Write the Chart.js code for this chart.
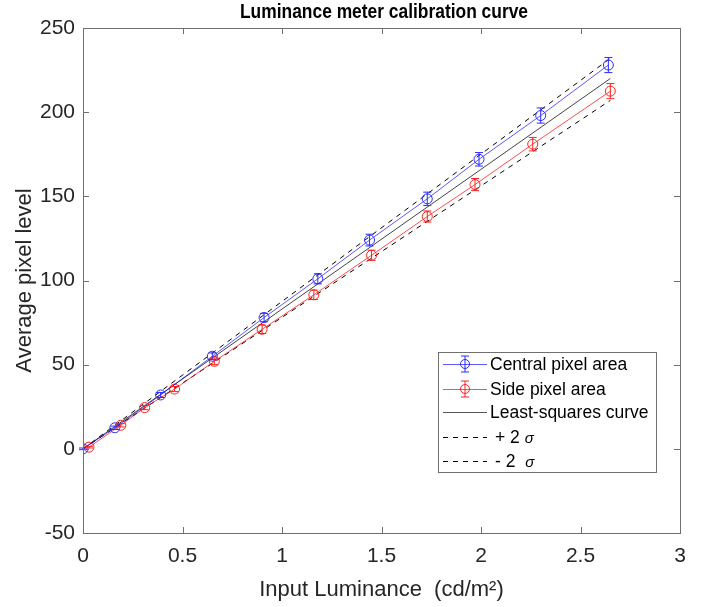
<!DOCTYPE html>
<html>
<head>
<meta charset="utf-8">
<script src="https://cdn.jsdelivr.net/npm/chart.js@4.4.0/dist/chart.umd.min.js"></script>
<style>
  html, body { margin: 0; padding: 0; background: #fff; }
</style>
</head>
<body>
<canvas id="calChart" width="702" height="607"></canvas>
<script>
const centralX = [0, 0.16, 0.39, 0.65, 0.91, 1.18, 1.44, 1.73, 1.99, 2.30, 2.64];
const centralY = [0, 12.5, 32, 55, 78, 101, 124, 148.5, 172, 198, 228];
const centralErr = [0.5, 1, 1.5, 2, 2.5, 3, 3.5, 4, 4, 4.5, 4.5];

const sideX = [0.03, 0.19, 0.31, 0.46, 0.66, 0.90, 1.16, 1.45, 1.73, 1.97, 2.26, 2.65];
const sideY = [1, 14, 24.5, 35.5, 52, 71, 91.5, 115, 138, 157, 181, 212.5];
const sideErr = [0.5, 1, 1.2, 1.5, 2, 2.5, 2.8, 3, 3.3, 3.6, 4, 4.5];

// least-squares line and +/- 2 sigma bounds (end points)
const fitX = [0, 2.65];
const fitY = [0, 220];
const plusY = [0, 232];
const minusY = [0, 207];

const xTicks = [0, 0.5, 1, 1.5, 2, 2.5, 3];
const yTicks = [-50, 0, 50, 100, 150, 200, 250];

const FONT = "'Liberation Sans', Arial, sans-serif";
const TEXT_COLOR = "#262626";
const BOX_COLOR = "#707070";

function toPoints(xs, ys) {
    return xs.map((x, i) => ({ x: x, y: ys[i] }));
}

// error bars drawn through the chart scales
const errorBarPlugin = {
    id: "errorBars",
    afterDatasetsDraw(chart) {
        const ctx = chart.ctx;
        const xs = chart.scales.x;
        const ys = chart.scales.y;
        chart.data.datasets.forEach((ds) => {
            if (!ds.errors) return;
            ctx.save();
            ctx.strokeStyle = ds.pointBorderColor;
            ctx.lineWidth = 1;
            ds.data.forEach((p, i) => {
                const e = ds.errors[i];
                const px = xs.getPixelForValue(p.x);
                const top = ys.getPixelForValue(p.y + e);
                const bot = ys.getPixelForValue(p.y - e);
                ctx.beginPath();
                ctx.moveTo(px, top);
                ctx.lineTo(px, bot);
                ctx.moveTo(px - 4, top);
                ctx.lineTo(px + 4, top);
                ctx.moveTo(px - 4, bot);
                ctx.lineTo(px + 4, bot);
                ctx.stroke();
            });
            ctx.restore();
        });
    }
};

// matlab style box with inward ticks, title and legend
const framePlugin = {
    id: "frame",
    afterDraw(chart) {
        const ctx = chart.ctx;
        const a = chart.chartArea;
        const xs = chart.scales.x;
        const ys = chart.scales.y;
        ctx.save();
        ctx.strokeStyle = BOX_COLOR;
        ctx.lineWidth = 1;
        ctx.strokeRect(Math.round(a.left) + 0.5, Math.round(a.top) + 0.5,
            Math.round(a.right - a.left), Math.round(a.bottom - a.top));
        ctx.beginPath();
        xTicks.forEach((v) => {
            const px = Math.round(xs.getPixelForValue(v)) + 0.5;
            ctx.moveTo(px, a.bottom); ctx.lineTo(px, a.bottom - 6);
            ctx.moveTo(px, a.top); ctx.lineTo(px, a.top + 6);
        });
        yTicks.forEach((v) => {
            const py = Math.round(ys.getPixelForValue(v)) + 0.5;
            ctx.moveTo(a.left, py); ctx.lineTo(a.left + 6, py);
            ctx.moveTo(a.right, py); ctx.lineTo(a.right - 6, py);
        });
        ctx.stroke();

        // title (the original is a narrow bold face)
        const title = "Luminance meter calibration curve";
        ctx.fillStyle = "#000";
        ctx.font = "bold 21px " + FONT;
        ctx.textAlign = "center";
        ctx.textBaseline = "middle";
        const tw = ctx.measureText(title).width;
        ctx.save();
        ctx.translate(384, 12);
        ctx.scale(288 / tw, 1);
        ctx.fillText(title, 0, 0);
        ctx.restore();

        // legend
        const lx = 438, ly = 352, lw = 218, lh = 120;
        ctx.fillStyle = "#fff";
        ctx.fillRect(lx, ly, lw, lh);
        ctx.strokeStyle = BOX_COLOR;
        ctx.strokeRect(lx + 0.5, ly + 0.5, lw, lh);

        const rows = [
            { text: "Central pixel area", color: "rgba(0,0,255,0.65)", mark: "#2a2aff", y: 364 },
            { text: "Side pixel area", color: "rgba(255,0,0,0.7)", mark: "#ff2020", y: 389 },
            { text: "Least-squares curve", color: "#555", y: 412 },
            { text: "+ 2 ", sigma: true, color: "#000", dash: true, y: 437 },
            { text: "- 2  ", sigma: true, color: "#000", dash: true, y: 461 }
        ];
        ctx.textAlign = "left";
        rows.forEach((r) => {
            ctx.strokeStyle = r.color;
            ctx.lineWidth = 1;
            ctx.setLineDash(r.dash ? [5, 5] : []);
            ctx.beginPath();
            ctx.moveTo(443, r.y + 0.5);
            ctx.lineTo(487, r.y + 0.5);
            ctx.stroke();
            ctx.setLineDash([]);
            if (r.mark) {
                ctx.strokeStyle = r.mark;
                ctx.beginPath();
                ctx.arc(465, r.y, 4.5, 0, Math.PI * 2);
                ctx.moveTo(465, r.y - 8); ctx.lineTo(465, r.y + 8);
                ctx.moveTo(461, r.y - 8); ctx.lineTo(469, r.y - 8);
                ctx.moveTo(461, r.y + 8); ctx.lineTo(469, r.y + 8);
                ctx.stroke();
            }
            ctx.fillStyle = "#000";
            ctx.font = "17.5px " + FONT;
            const tx = r.sigma ? 495 : 490;
            ctx.fillText(r.text, tx, r.y + 1);
            if (r.sigma) {
                const w = ctx.measureText(r.text).width;
                ctx.font = "italic 15px " + FONT;
                ctx.fillText("\u03c3", tx + w, r.y + 2);
            }
        });
        ctx.restore();
    }
};

const ctx = document.getElementById("calChart").getContext("2d");

new Chart(ctx, {
    type: "scatter",
    data: {
        datasets: [
            {
                label: "Central pixel area",
                data: toPoints(centralX, centralY),
                errors: centralErr,
                showLine: true,
                borderColor: "rgba(0,0,255,0.65)",
                borderWidth: 1,
                pointStyle: "circle",
                pointRadius: 5,
                pointBorderColor: "#2a2aff",
                pointBackgroundColor: "rgba(0,0,0,0)",
                pointBorderWidth: 1
            },
            {
                label: "Side pixel area",
                data: toPoints(sideX, sideY),
                errors: sideErr,
                showLine: true,
                borderColor: "rgba(255,0,0,0.7)",
                borderWidth: 1,
                pointStyle: "circle",
                pointRadius: 5,
                pointBorderColor: "#ff2020",
                pointBackgroundColor: "rgba(0,0,0,0)",
                pointBorderWidth: 1
            },
            {
                label: "Least-squares curve",
                data: toPoints(fitX, fitY),
                showLine: true,
                borderColor: "#444",
                borderWidth: 1,
                pointRadius: 0
            },
            {
                label: "+ 2 \u03c3",
                data: toPoints(fitX, plusY),
                showLine: true,
                borderColor: "#000",
                borderWidth: 1,
                borderDash: [5, 5],
                pointRadius: 0
            },
            {
                label: "- 2 \u03c3",
                data: toPoints(fitX, minusY),
                showLine: true,
                borderColor: "#000",
                borderWidth: 1,
                borderDash: [5, 5],
                pointRadius: 0
            }
        ]
    },
    options: {
        responsive: false,
        animation: false,
        layout: { padding: { top: 28, right: 22, left: 0, bottom: 0 } },
        plugins: {
            legend: { display: false },
            title: { display: false },
            tooltip: { enabled: false }
        },
        scales: {
            x: {
                type: "linear",
                min: 0,
                max: 3,
                afterBuildTicks: (s) => { s.ticks = xTicks.map(v => ({ value: v })); },
                afterFit: (s) => { s.height = 74; },
                grid: { display: false, drawTicks: false },
                border: { display: false },
                ticks: {
                    font: { family: FONT, size: 21 },
                    color: TEXT_COLOR,
                    padding: 11,
                    maxRotation: 0,
                    callback: (v) => String(v)
                },
                title: {
                    display: true,
                    text: "Input Luminance  (cd/m\u00b2)",
                    font: { family: FONT, size: 22 },
                    color: TEXT_COLOR,
                    padding: { top: 0, bottom: 4 }
                }
            },
            y: {
                type: "linear",
                min: -50,
                max: 250,
                afterBuildTicks: (s) => { s.ticks = yTicks.map(v => ({ value: v })); },
                afterFit: (s) => { s.width = 83; },
                grid: { display: false, drawTicks: false },
                border: { display: false },
                ticks: { font: { family: FONT, size: 21 }, color: TEXT_COLOR, padding: 8 },
                title: {
                    display: true,
                    text: "Average pixel level",
                    font: { family: FONT, size: 22 },
                    color: TEXT_COLOR,
                    padding: { top: 12, bottom: 0 }
                }
            }
        }
    },
    plugins: [errorBarPlugin, framePlugin]
});
</script>
</body>
</html>
